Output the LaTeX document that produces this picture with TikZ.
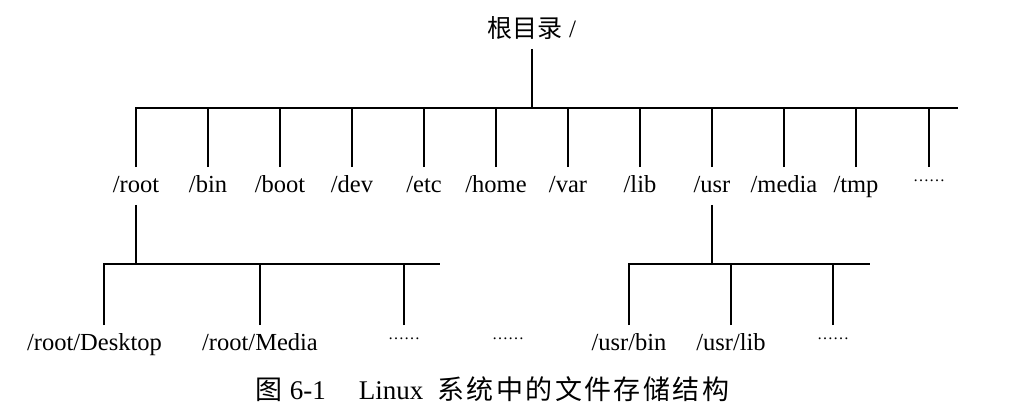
\documentclass[tikz,border=0pt]{standalone}
\usepackage{fontspec}
\setmainfont{Liberation Serif}
\newfontfamily\cjk{Noto Sans CJK SC}
\newfontfamily\cjkcap[LetterSpace=9]{Noto Sans CJK SC}
\newcommand{\mydots}{\raisebox{11pt}{\fontsize{16}{16}\selectfont ……}}
\begin{document}
\begin{tikzpicture}[x=1pt,y=-1pt,line width=1.8pt,
  lbl/.style={font=\fontsize{24.5}{28}\selectfont, anchor=base, inner xsep=0pt,
    inner ysep=6pt, text height=18pt, text depth=6pt},
  ttl/.style={font=\fontsize{25}{28}\selectfont, anchor=base, inner xsep=0pt,
    inner ysep=6pt, text depth=5pt},
  captext/.style={font=\fontsize{27}{30}\selectfont, anchor=base west, inner sep=0pt}]
\useasboundingbox (0,0) rectangle (1010,405);
% title
\node[ttl] (rootdir) at (532,37) {{\cjk 根目录} /};
% top bar
\coordinate (tbL) at (136,108);
\coordinate (tbR) at (958,108);
% first level
\node[lbl] (root)  at (136,192) {/root};
\node[lbl] (bin)   at (208,192) {/bin};
\node[lbl] (boot)  at (280,192) {/boot};
\node[lbl] (dev)   at (352,192) {/dev};
\node[lbl] (etc)   at (424,192) {/etc};
\node[lbl] (home)  at (496,192) {/home};
\node[lbl] (var)   at (568,192) {/var};
\node[lbl] (lib)   at (640,192) {/lib};
\node[lbl] (usr)   at (712,192) {/usr};
\node[lbl] (media) at (784,192) {/media};
\node[lbl] (tmp)   at (856,192) {/tmp};
\node[lbl] (more)  at (929,192) {\mydots};
\draw (rootdir.south) -- (rootdir.south |- tbL);
\draw (root.north) |- (tbR);
\foreach \n in {bin,boot,dev,etc,home,var,lib,usr,media,tmp,more}
  \draw (\n.north) -- (\n.north |- tbL);
% root subtree
\coordinate (rbL) at (104,264);
\coordinate (rbR) at (440,264);
\node[lbl] (desk)  at (94.5,350) {/root/Desktop};
\node[lbl] (rmed)  at (260,350) {/root/Media};
\node[lbl] (rmore) at (404,350) {\mydots};
\node[lbl] (mid)   at (508,350) {\mydots};
\draw (root.south) -- (root.south |- rbL);
\draw (rbL |- desk.north) |- (rbR);
\foreach \n in {rmed,rmore}
  \draw (\n.north) -- (\n.north |- rbL);
% usr subtree
\coordinate (ubL) at (629,264);
\coordinate (ubR) at (870,264);
\node[lbl] (ubin)  at (629,350) {/usr/bin};
\node[lbl] (ulib)  at (731,350) {/usr/lib};
\node[lbl] (umore) at (833,350) {\mydots};
\draw (usr.south) -- (usr.south |- ubL);
\draw (ubin.north) |- (ubR);
\foreach \n in {ulib,umore}
  \draw (\n.north) -- (\n.north |- ubL);
% caption
\node[captext] (caption) at (255,399) {{\cjk 图}\hspace{7pt}6-1\hspace{33pt}Linux\hspace{14pt}{\cjkcap 系统中的文件存储结构}};
\end{tikzpicture}
\end{document}
